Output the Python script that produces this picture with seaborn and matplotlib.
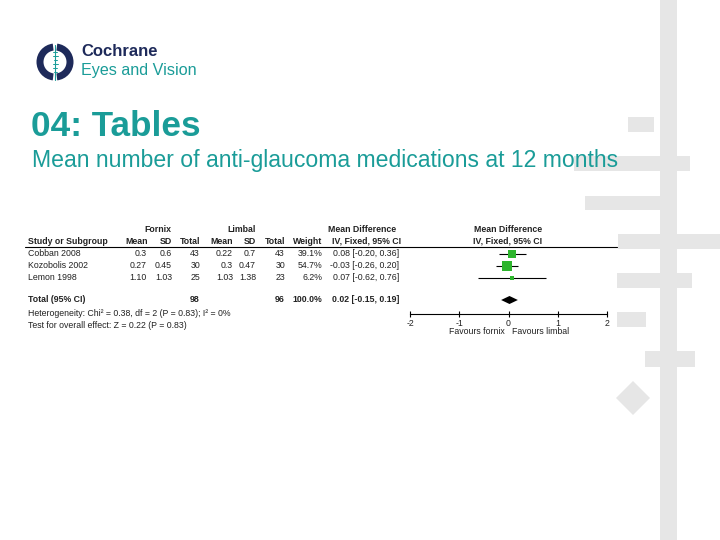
import matplotlib
matplotlib.use("Agg")
import matplotlib.pyplot as plt
import seaborn as sns
import pandas as pd
import numpy as np
from matplotlib.patches import Rectangle, Polygon, Wedge

sns.set_theme(style="white")
plt.rcParams['font.family'] = ['Liberation Sans', 'DejaVu Sans']

# ---------------- data ----------------
studies = ["Cobban 2008", "Kozobolis 2002", "Lemon 1998"]
fornix_mean = ["0.3", "0.27", "1.10"]
fornix_sd = ["0.6", "0.45", "1.03"]
fornix_n = [43, 30, 25]
limbal_mean = ["0.22", "0.3", "1.03"]
limbal_sd = ["0.7", "0.47", "1.38"]
limbal_n = [43, 30, 23]
weights = [39.1, 54.7, 6.2]
md = [0.08, -0.03, 0.07]
ci_low = [-0.20, -0.26, -0.62]
ci_high = [0.36, 0.20, 0.76]
total_fornix = 98
total_limbal = 96
total_md = 0.02
total_low = -0.15
total_high = 0.19
heterogeneity = "Heterogeneity: Chi\u00b2 = 0.38, df = 2 (P = 0.83); I\u00b2 = 0%"
overall = "Test for overall effect: Z = 0.22 (P = 0.83)"
x_ticks = [-2, -1, 0, 1, 2]

TEAL = "#1a9c98"
NAVY = "#1e2a5a"
DECO = "#e6e6e6"

fig = plt.figure(figsize=(7.2, 5.4), dpi=100)
bg = fig.add_axes([0, 0, 1, 1])
bg.set_xlim(0, 720)
bg.set_ylim(540, 0)
bg.axis("off")

# ---------- decorative shapes ----------
bg.add_patch(Rectangle((660, 0), 17, 540, color=DECO, lw=0))
for (x0, y0, x1, y1) in [(628, 117, 654, 132), (574, 156, 690, 171), (585, 196, 660, 210),
                         (618, 234, 720, 249), (617, 273, 692, 288), (617, 312, 646, 327),
                         (645, 351, 695, 367)]:
    bg.add_patch(Rectangle((x0, y0), x1 - x0, y1 - y0, color=DECO, lw=0))
cx, cy, r = 633, 398, 17
bg.add_patch(Polygon([(cx - r, cy), (cx, cy - r), (cx + r, cy), (cx, cy + r)], color=DECO, lw=0))

# ---------- logo ----------
lx, ly = 55, 62
bg.add_patch(Wedge((lx, ly), 18.5, 97, 263, width=7, color=NAVY, lw=0))
bg.add_patch(Wedge((lx, ly), 18.5, -83, 83, width=7, color=NAVY, lw=0))
bg.plot([lx, lx], [45, 80], color=TEAL, lw=0.8)
for yy, w in [(52, 4), (56, 5), (60, 3), (64, 5), (68, 4), (72, 3)]:
    bg.plot([lx - w / 2, lx + w / 2], [yy, yy], color=TEAL, lw=0.7)
bg.text(81, 52, "Cochrane", color=NAVY, fontsize=12, fontweight="bold", va="center", ha="left")
bg.text(81, 70, "Eyes and Vision", color=TEAL, fontsize=11.6, va="center", ha="left")

# ---------- title ----------
bg.text(31, 126, "04: Tables", color=TEAL, fontsize=25.3, fontweight="bold", va="center", ha="left")
bg.text(32, 161, "Mean number of anti-glaucoma medications at 12 months", color=TEAL,
        fontsize=16.6, va="center", ha="left")

# ---------- table text ----------
fs = 6.3
tc = "#222222"
bg.text(158, 229, "Fornix", fontsize=fs, fontweight="bold", ha="center", va="center", color=tc)
bg.text(242, 229, "Limbal", fontsize=fs, fontweight="bold", ha="center", va="center", color=tc)
bg.text(362, 229, "Mean Difference", fontsize=fs, fontweight="bold", ha="center", va="center", color=tc)
bg.text(508, 229, "Mean Difference", fontsize=fs, fontweight="bold", ha="center", va="center", color=tc)
hy = 241
bg.text(28, hy, "Study or Subgroup", fontsize=fs, fontweight="bold", ha="left", va="center", color=tc)
for xr, lab in [(148, "Mean"), (172, "SD"), (200, "Total"), (233, "Mean"), (256, "SD"),
                (285, "Total"), (322, "Weight"), (401, "IV, Fixed, 95% CI")]:
    bg.text(xr, hy, lab, fontsize=fs, fontweight="bold", ha="right", va="center", color=tc)
bg.text(508, hy, "IV, Fixed, 95% CI", fontsize=fs, fontweight="bold", ha="center", va="center", color=tc)
bg.plot([25, 617], [246.5, 246.5], color="black", lw=0.8)

row_y = [254, 266, 278]
for i, s in enumerate(studies):
    y = row_y[i]
    bg.text(28, y, s, fontsize=fs, ha="left", va="center", color=tc)
    bg.text(147, y, fornix_mean[i], fontsize=fs, ha="right", va="center", color=tc)
    bg.text(172, y, fornix_sd[i], fontsize=fs, ha="right", va="center", color=tc)
    bg.text(200, y, str(fornix_n[i]), fontsize=fs, ha="right", va="center", color=tc)
    bg.text(233, y, limbal_mean[i], fontsize=fs, ha="right", va="center", color=tc)
    bg.text(256, y, limbal_sd[i], fontsize=fs, ha="right", va="center", color=tc)
    bg.text(285, y, str(limbal_n[i]), fontsize=fs, ha="right", va="center", color=tc)
    bg.text(322, y, f"{weights[i]:.1f}%", fontsize=fs, ha="right", va="center", color=tc)
    bg.text(399, y, f"{md[i]:.2f} [{ci_low[i]:.2f}, {ci_high[i]:.2f}]", fontsize=fs,
            ha="right", va="center", color=tc)

ty = 300
bg.text(28, ty, "Total (95% CI)", fontsize=fs, fontweight="bold", ha="left", va="center", color=tc)
bg.text(200, ty, str(total_fornix), fontsize=fs, fontweight="bold", ha="right", va="center", color=tc)
bg.text(285, ty, str(total_limbal), fontsize=fs, fontweight="bold", ha="right", va="center", color=tc)
bg.text(322, ty, "100.0%", fontsize=fs, fontweight="bold", ha="right", va="center", color=tc)
bg.text(399, ty, f"{total_md:.2f} [{total_low:.2f}, {total_high:.2f}]", fontsize=fs,
        fontweight="bold", ha="right", va="center", color=tc)
bg.text(28, 313, heterogeneity, fontsize=fs, ha="left", va="center", color=tc)
bg.text(28, 325, overall, fontsize=fs, ha="left", va="center", color=tc)
bg.text(505, 331, "Favours fornix", fontsize=fs, ha="right", va="center", color=tc)
bg.text(512, 331, "Favours limbal", fontsize=fs, ha="left", va="center", color=tc)

# ---------- forest plot ----------
top, bottom = 246, 314
ax = fig.add_axes([410 / 720, 1 - bottom / 540, (607 - 410) / 720, (bottom - top) / 540])
ax.set_xlim(-2, 2)
ax.set_ylim(bottom, top)
ax.patch.set_alpha(0)
for sp in ["top", "right", "left"]:
    ax.spines[sp].set_visible(False)
ax.spines["bottom"].set_color("black")
ax.spines["bottom"].set_linewidth(0.8)
ax.set_yticks([])
ax.set_xticks(x_ticks)
ax.set_xticklabels([str(t) for t in x_ticks], fontsize=fs, color=tc)
ax.tick_params(axis="x", direction="inout", length=5, width=0.8, pad=1, color="black", bottom=True)

df = pd.DataFrame({"study": studies, "md": md, "y": row_y, "w": weights,
                   "lo": ci_low, "hi": ci_high})
ax.hlines(df["y"], df["lo"], df["hi"], color="black", lw=0.8)
sns.scatterplot(data=df, x="md", y="y", size="w", sizes=(3, 50), size_norm=(0, 60),
                marker="s", color="#2db52d", edgecolor="none", legend=False, ax=ax, zorder=3)
ax.add_patch(Polygon([(total_low, ty), (total_md, ty - 4), (total_high, ty), (total_md, ty + 4)],
                     closed=True, color="black", lw=0))
ax.set_xlabel("")
ax.set_ylabel("")

fig.savefig("out.png", dpi=100)
